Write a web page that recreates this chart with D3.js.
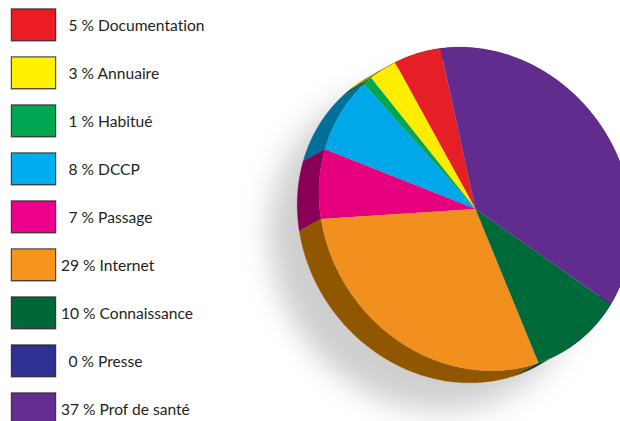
<!DOCTYPE html>
<html><head><meta charset="utf-8">
<script src="https://cdn.jsdelivr.net/npm/d3@7"></script>
<style>html,body{margin:0;padding:0;background:#fff}svg{display:block}</style>
</head><body><svg id="c" width="620" height="421"></svg>
<script>
const categories=["Documentation","Annuaire","Habitué","DCCP","Passage","Internet","Connaissance","Presse","Prof de santé"];
const values=[5,3,1,8,7,29,10,0,37];
const legendColors=["#ed1c24","#fff200","#00a651","#00aeef","#ec008c","#f7941e","#006838","#2e3192","#662d91"];
const faceColors=["#e61e25","#ffed00","#00a651","#00a8e9","#e6007e","#f18f1f","#00693a","#2e3192","#612c8e"];
const sideColors=["#8c1216","#9a8f00","#006532","#006f9a","#8a0056","#915600","#004023","#1c1e58","#3a1a55"];

const svg=d3.select("#c");
const cx=475.5,cy=209,A=167.5,B=150.5,tilt=54,dx=-21.7,dy=12;
const rad=Math.PI/180,start=-64*rad;
const pie=d3.pie().sort(null).startAngle(start).endAngle(start-2*Math.PI);
const arcs=pie(values);

const defs=svg.append("defs");
defs.append("filter").attr("id","blur").attr("x","-30%").attr("y","-30%").attr("width","160%").attr("height","160%")
  .append("feGaussianBlur").attr("stdDeviation",9);

// legend
const row=d3.scalePoint().domain(categories).range([25,409]);
const lg=svg.append("g");
lg.selectAll("rect.h").data(categories).join("rect").attr("class","h")
  .attr("x",10.5).attr("y",d=>row(d)-17).attr("width",46).attr("height",34).attr("fill","#b5b5b5");
lg.selectAll("rect.s").data(categories).join("rect").attr("class","s")
  .attr("x",11.5).attr("y",d=>row(d)-16).attr("width",44).attr("height",31.5)
  .attr("fill",(d,i)=>legendColors[i]).attr("stroke","#231f20").attr("stroke-opacity",.75).attr("stroke-width",1);
lg.selectAll("text").data(categories).join("text")
  .attr("x",(d,i)=>values[i]>=10?61:68.5).attr("y",d=>row(d)+6)
  .attr("font-family","Lato,sans-serif").attr("font-size",15.6).attr("fill","#231f20")
  .style("font-variant-ligatures","none")
  .text((d,i)=>`${values[i]} % ${d}`);

const frame=(ox,oy)=>`translate(${cx+ox},${cy+oy}) rotate(${tilt}) scale(${A/100},${B/100})`;

// shadow
svg.append("ellipse").attr("rx",100).attr("ry",100).attr("transform",frame(-50,40))
  .attr("fill","#cfcfcf").attr("filter","url(#blur)");

// extrusion
const c=Math.cos(tilt*rad),s=Math.sin(tilt*rad);
const pt=(a,ox,oy)=>{const u=A*Math.sin(a),v=-B*Math.cos(a);return [cx+ox+u*c-v*s,cy+oy+u*s+v*c];};
const line=d3.line();
svg.append("g").selectAll("path").data(arcs).join("path")
  .attr("fill",(d,i)=>sideColors[i]).attr("stroke",(d,i)=>sideColors[i]).attr("stroke-width",.3)
  .attr("d",d=>{
    const n=Math.max(2,Math.ceil(Math.abs(d.endAngle-d.startAngle)/0.01));
    const as=d3.range(n+1).map(k=>d.startAngle+(d.endAngle-d.startAngle)*k/n);
    return line([...as.map(a=>pt(a,0,0)),...as.slice().reverse().map(a=>pt(a,dx,dy))])+"Z";
  });

// faces
const arc=d3.arc().innerRadius(0).outerRadius(100);
svg.append("g").attr("transform",frame(0,0))
  .selectAll("path").data(arcs).join("path")
  .attr("d",arc).attr("fill",(d,i)=>faceColors[i]);
</script></body></html>
